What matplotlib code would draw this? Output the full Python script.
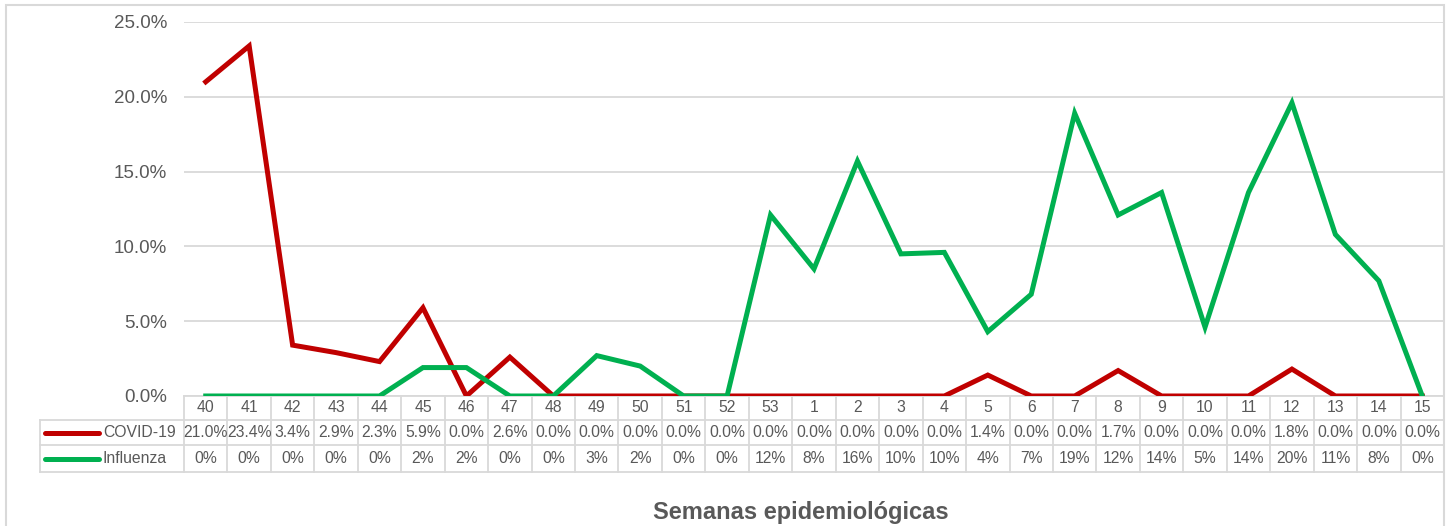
import matplotlib.pyplot as plt
import matplotlib.transforms as mtransforms
from matplotlib.patches import Rectangle
import numpy as np

plt.rcParams['font.family'] = ['Liberation Sans', 'DejaVu Sans']

weeks = ['40', '41', '42', '43', '44', '45', '46', '47', '48', '49', '50', '51', '52', '53',
         '1', '2', '3', '4', '5', '6', '7', '8', '9', '10', '11', '12', '13', '14', '15']
covid = [21.0, 23.4, 3.4, 2.9, 2.3, 5.9, 0.0, 2.6, 0.0, 0.0, 0.0, 0.0, 0.0, 0.0,
         0.0, 0.0, 0.0, 0.0, 1.4, 0.0, 0.0, 1.7, 0.0, 0.0, 0.0, 1.8, 0.0, 0.0, 0.0]
influenza = [0.0, 0.0, 0.0, 0.0, 0.0, 1.9, 1.9, 0.0, 0.0, 2.7, 2.0, 0.0, 0.0, 12.1,
             8.5, 15.7, 9.5, 9.6, 4.3, 6.8, 18.9, 12.1, 13.6, 4.6, 13.6, 19.6, 10.8, 7.7, 0.0]
influenza_lbl = ['0%', '0%', '0%', '0%', '0%', '2%', '2%', '0%', '0%', '3%', '2%', '0%', '0%', '12%',
                 '8%', '16%', '10%', '10%', '4%', '7%', '19%', '12%', '14%', '5%', '14%', '20%', '11%', '8%', '0%']

red = '#C00000'
green = '#00B050'
gray = '#595959'
grid = '#D9D9D9'

W, H = 1453, 526
fig = plt.figure(figsize=(W / 100, H / 100), dpi=100)
# outer chart frame (bottom edge runs off the picture)
fig.patches.append(Rectangle((6 / W, -5 / H), 1438 / W, (H - 5 + 5) / H, transform=fig.transFigure,
                             fill=False, edgecolor=grid, lw=1.5))

ax = fig.add_axes([184 / W, (H - 396) / H, (1444 - 184) / W, (396 - 22) / H])
x = np.arange(len(weeks))
ax.plot(x, covid, color=red, lw=3.6, solid_joinstyle='miter', zorder=3)
ax.plot(x, influenza, color=green, lw=3.6, solid_joinstyle='miter', zorder=3)

ax.set_xlim(-0.5, len(weeks) - 0.5)
ax.set_ylim(0, 25)
ax.set_yticks(np.arange(0, 26, 5))
ax.set_yticklabels(['%.1f%%' % v for v in np.arange(0, 26, 5)])
ax.tick_params(axis='y', length=0, labelsize=13.5, labelcolor=gray, pad=12)
ax.set_xticks([])
ax.grid(axis='y', color=grid, lw=1.3)
ax.set_axisbelow(True)
for s in ax.spines.values():
    s.set_visible(False)

# data table below the axis
tr = mtransforms.blended_transform_factory(ax.transData, ax.transAxes)
px = 1 / 374.0
colw = (1444 - 184) / len(weeks)
row_edges = [0, -24 * px, -49 * px, -76 * px]
left = -0.5 - (184 - 40) / colw
n = len(weeks)
ax.plot([-0.5, n - 0.5], [row_edges[0]] * 2, transform=tr, color=grid, lw=1.3, clip_on=False)
for yy in row_edges[1:]:
    ax.plot([left, n - 0.5], [yy] * 2, transform=tr, color=grid, lw=1.3, clip_on=False)
for i in range(n + 1):
    ax.plot([i - 0.5] * 2, [row_edges[0], row_edges[3]], transform=tr, color=grid, lw=1.3, clip_on=False)
ax.plot([left] * 2, [row_edges[1], row_edges[3]], transform=tr, color=grid, lw=1.3, clip_on=False)

fs = 11.3
mids = [(row_edges[k] + row_edges[k + 1]) / 2 for k in range(3)]
for i in range(n):
    ax.text(i, mids[0], weeks[i], transform=tr, ha='center', va='center', fontsize=fs, color=gray)
    ax.text(i, mids[1], '%.1f%%' % covid[i], transform=tr, ha='center', va='center', fontsize=fs, color=gray)
    ax.text(i, mids[2], influenza_lbl[i], transform=tr, ha='center', va='center', fontsize=fs, color=gray)

# legend keys inside the table
for k, (name, c) in enumerate([('COVID-19', red), ('Influenza', green)]):
    yk = mids[k + 1]
    ax.plot([left + 5 / colw, left + 59 / colw], [yk, yk], transform=tr, color=c, lw=3.6,
            solid_capstyle='round', clip_on=False)
    ax.text(left + 63 / colw, yk, name, transform=tr, ha='left', va='center', fontsize=fs, color=gray)

fig.text(801 / W, 1 - 512 / H, 'Semanas epidemiológicas', ha='center', va='center',
         fontsize=17, fontweight='bold', color=gray)

fig.savefig('out.png', dpi=100)
